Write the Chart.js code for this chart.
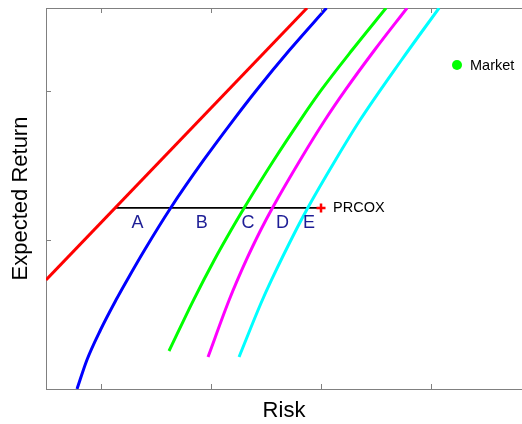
<!DOCTYPE html>
<html><head><meta charset="utf-8">
<script src="https://cdn.jsdelivr.net/npm/chart.js@4.4.0/dist/chart.umd.min.js"></script>
<style>html,body{margin:0;padding:0;background:#fff}</style>
</head><body>
<canvas id="c" width="522" height="424"></canvas>
<script>
// ---- data ----
const redX = [0.5, 2.873];
const redY = [0.732, 2.557];
const blueX = [0.782, 0.872, 0.995, 1.136, 1.238, 1.396, 1.633, 1.934, 2.203, 2.415, 2.714, 3.050];
const blueY = [0.000, 0.195, 0.396, 0.597, 0.732, 0.933, 1.215, 1.537, 1.805, 2.007, 2.275, 2.557];
const greenX = [1.618, 1.841, 2.030, 2.183, 2.301, 2.572, 2.812, 3.003, 3.283, 3.591];
const greenY = [0.255, 0.597, 0.866, 1.067, 1.215, 1.537, 1.805, 2.007, 2.275, 2.557];
const magentaX = [1.973, 2.165, 2.321, 2.452, 2.558, 2.811, 3.036, 3.222, 3.487, 3.782];
const magentaY = [0.215, 0.597, 0.866, 1.067, 1.215, 1.537, 1.805, 2.007, 2.275, 2.557];
const cyanX = [2.255, 2.455, 2.550, 2.773, 2.879, 3.132, 3.355, 3.732, 4.073];
const cyanY = [0.215, 0.577, 0.732, 1.067, 1.215, 1.537, 1.805, 2.208, 2.557];
const prcoxX = [1.128, 3.0];
const prcoxY = [1.215, 1.215];
const prcoxLabel = 'PRCOX';
const letterLabels = ['A', 'B', 'C', 'D', 'E'];
const letterX = [1.332, 1.915, 2.336, 2.65, 2.891];
const letterY = [1.111, 1.111, 1.111, 1.111, 1.111];
const marketX = [4.236];
const marketY = [2.174];
const marketLabel = 'Market';
const xTicks = [1, 2, 3, 4];
const yTicks = [1, 2];
const xRange = [0.5, 4.827];
const yRange = [0, 2.557];

const pts = (xs, ys) => xs.map((x, i) => ({x, y: ys[i]}));
const FONT = '"Liberation Sans", Arial, sans-serif';
const AXIS = '#808080';

const curve = (xs, ys, color) => ({
  data: pts(xs, ys), borderColor: color, borderWidth: 3, pointRadius: 0,
  cubicInterpolationMode: 'monotone', fill: false, clip: 0
});

const decor = {
  id: 'decor',
  afterDatasetsDraw(chart) {
    const {ctx, scales: {x, y}} = chart;
    const ca = chart.chartArea;
    ctx.save();
    ctx.strokeStyle = AXIS; ctx.lineWidth = 1;
    ctx.beginPath();
    xTicks.forEach(v => {
      const px = Math.round(x.getPixelForValue(v)) + 0.5;
      ctx.moveTo(px, ca.bottom); ctx.lineTo(px, ca.bottom - 5);
      ctx.moveTo(px, ca.top); ctx.lineTo(px, ca.top + 5);
    });
    yTicks.forEach(v => {
      const py = Math.round(y.getPixelForValue(v)) + 0.5;
      ctx.moveTo(ca.left, py); ctx.lineTo(ca.left + 5, py);
    });
    ctx.stroke();
    ctx.fillStyle = 'rgb(30,30,150)';
    ctx.font = '18px ' + FONT;
    ctx.textAlign = 'center'; ctx.textBaseline = 'middle';
    letterLabels.forEach((t, i) => ctx.fillText(t, x.getPixelForValue(letterX[i]), y.getPixelForValue(letterY[i])));
    ctx.fillStyle = '#000';
    ctx.font = '14.5px ' + FONT;
    ctx.textAlign = 'left';
    ctx.fillText(prcoxLabel, x.getPixelForValue(prcoxX[1]) + 12, y.getPixelForValue(prcoxY[1]));
    ctx.fillText(marketLabel, x.getPixelForValue(marketX[0]) + 13, y.getPixelForValue(marketY[0]) + 1);
    ctx.restore();
  }
};

new Chart(document.getElementById('c'), {
  type: 'line',
  data: {
    datasets: [
      {data: pts([prcoxX[1]], [prcoxY[1]]), showLine: false, pointStyle: 'cross', pointRadius: 4.5,
       pointBorderColor: '#ff0000', pointBorderWidth: 2.5, order: -2, clip: false},
      {data: pts(marketX, marketY), showLine: false, pointStyle: 'circle', pointRadius: 5,
       pointBackgroundColor: '#00ff00', pointBorderColor: '#00ff00', pointBorderWidth: 0, order: -1, clip: false},
      curve(redX, redY, '#ff0000'),
      curve(blueX, blueY, '#0000ff'),
      curve(greenX, greenY, '#00ff00'),
      curve(magentaX, magentaY, '#ff00ff'),
      curve(cyanX, cyanY, '#00ffff'),
      {data: pts(prcoxX, prcoxY), borderColor: '#000', borderWidth: 1.8, pointRadius: 0, fill: false, clip: 0}
    ]
  },
  options: {
    responsive: false, animation: false,
    layout: {padding: 0, autoPadding: false},
    plugins: {legend: {display: false}, tooltip: {enabled: false}},
    scales: {
      x: {
        type: 'linear', position: 'bottom', min: xRange[0], max: xRange[1],
        grid: {display: false}, ticks: {display: false},
        border: {display: true, color: AXIS, width: 1},
        title: {display: true, text: 'Risk', color: '#000', font: {family: FONT, size: 22}, padding: {top: 0, bottom: 0}},
        afterFit: s => { s.height = 35; }
      },
      x2: {
        type: 'linear', position: 'top', min: xRange[0], max: xRange[1],
        grid: {display: false}, ticks: {display: false},
        border: {display: true, color: AXIS, width: 1},
        afterFit: s => { s.height = 8; }
      },
      y: {
        type: 'linear', position: 'left', min: yRange[0], max: yRange[1],
        grid: {display: false}, ticks: {display: false},
        border: {display: true, color: AXIS, width: 1},
        title: {display: true, text: 'Expected Return', color: '#000', font: {family: FONT, size: 22}, padding: {top: 8, bottom: 0}},
        afterFit: s => { s.width = 46; }
      }
    }
  },
  plugins: [decor]
});
</script>
</body></html>
